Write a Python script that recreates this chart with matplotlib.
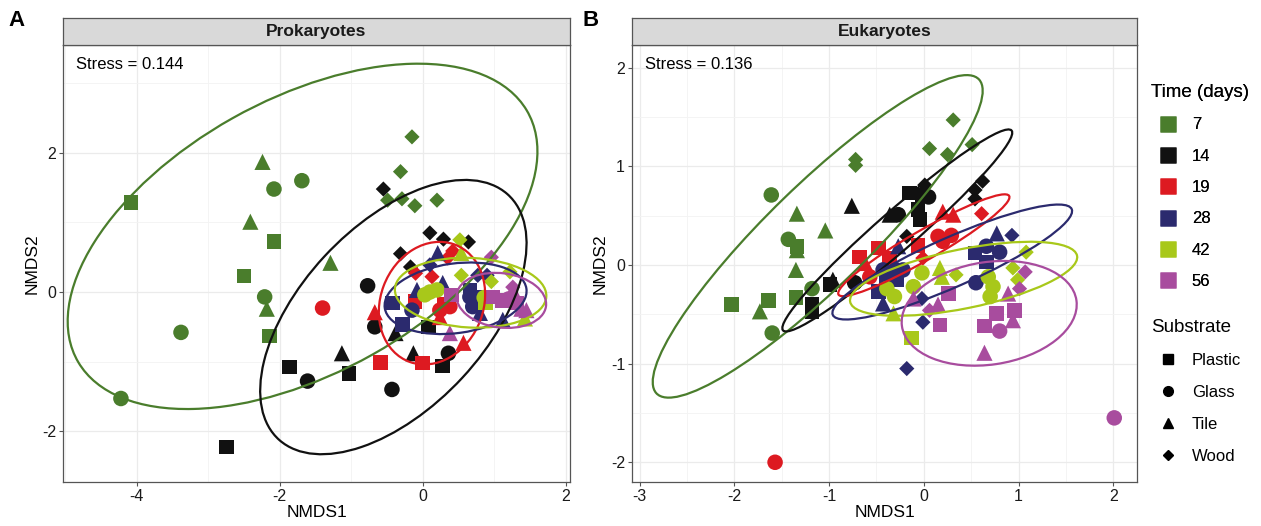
#!/usr/bin/env python3

import matplotlib
matplotlib.use("Agg")
from matplotlib import pyplot as plt
from matplotlib.patches import Ellipse
from matplotlib.lines import Line2D
from matplotlib.ticker import MultipleLocator


plt.rcParams["font.family"] = ["Liberation Sans", "DejaVu Sans"]
plt.rcParams["axes.unicode_minus"] = False

TIMES = [7, 14, 19, 28, 42, 56]
TIME_COLORS = ["#4a7d2c", "#111111", "#dd1a21", "#2b2a6e", "#a8c81a", "#a84c9e"]
SUBSTRATES = ["Plastic", "Glass", "Tile", "Wood"]
SUB_MARKERS = {"P": "s", "G": "o", "T": "^", "W": "D"}
SUB_SIZES = {"P": 110, "G": 125, "T": 135, "W": 60}

# Prokaryotes NMDS scores
pro_x = [-4.08, -2.24, -2.08, -1.69, -2.41, -2.08, -2.50, -1.29, -2.21, -2.18,
         -2.14, -3.38, -4.22, -0.15, -0.31, -0.49, -0.29, -0.11, 0.20,
         -0.55, 0.10, 0.29, 0.64, -0.31, -0.17, -0.77, -0.67, 0.36, -0.43,
         -1.61, -0.38, -0.13, -1.13, 0.08, 0.28, -1.03, -1.86, -2.74,
         -1.40, 0.24, 0.38, -0.67, 0.57, 0.24, -0.59, 0.00, -0.11, 0.30,
         -0.10, 0.13, 0.42, 0.35,
         0.21, -0.08, 0.28, 1.12, 0.80, 0.10, 0.77, 0.90, -0.42, -0.28,
         0.66, 0.84, -0.15, 0.66, 0.70,
         0.52, 0.54, 1.22, 0.96, 0.54, 1.43, 0.10, 0.20, 0.03, 0.86, 0.88,
         0.96, 1.26, 0.40, 0.98, 1.12, 1.31, 0.38, 1.26, 1.45, 1.38, 1.20]
pro_y = [1.29, 1.87, 1.48, 1.60, 1.01, 0.73, 0.23, 0.42, -0.07, -0.24,
         -0.63, -0.58, -1.53, 2.23, 1.73, 1.32, 1.34, 1.24, 1.32,
         1.48, 0.85, 0.76, 0.72, 0.55, 0.36, 0.09, -0.50, -0.88, -1.40,
         -1.28, -0.59, -0.88, -0.88, -0.50, -1.06, -1.17, -1.08, -2.23,
         -0.23, -0.26, -0.21, -0.29, -0.73, -0.36, -1.01, -1.02, -0.14, -0.18,
         0.27, 0.22, 0.59, 0.49,
         0.56, 0.03, 0.13, -0.40, -0.30, 0.39, 0.24, 0.24, -0.16, -0.47,
         0.03, -0.08, -0.26, -0.07, -0.21,
         0.75, 0.24, 0.29, 0.15, 0.56, -0.38, 0.00, 0.03, -0.04, -0.08, -0.15,
         0.50, 0.07, -0.04, -0.07, -0.12, -0.16, -0.59, 0.03, -0.26, -0.24, -0.10]
pro_time = [7] * 19 + [14] * 19 + [19] * 14 + [28] * 15 + [42] * 11 + [56] * 11
pro_sub = list("PTGGTPPTGTPGGWWWWWW"
               "WWWWWWGGGGGTTTPPPPP"
               "GGGTTTPPPPWWWW"
               "TTTTTWWWPPPPGGG"
               "WWWWTTGGGGP"
               "WWPPPPTTTTG")

# Eukaryotes NMDS scores
euk_x = [-1.61, 0.31, 0.06, 0.25, 0.51, -0.72, -0.72, -1.34, -1.04, -1.43,
         -1.34, -1.34, -1.35, -1.18, -1.35, -1.64, -2.03, -1.73, -1.60,
         -0.76, -0.36, -0.27, -0.15, -0.02, 0.05, 0.01, -0.06, -0.04, 0.62,
         0.54, 0.54, -0.18, -0.96, -0.99, -0.73, -1.18, -1.18,
         -1.57, -0.68, -0.48, -0.36, -0.57, -0.06, 0.20, 0.31, 0.15, 0.29,
         0.20, 0.61, -0.01, -0.62,
         -0.18, -0.01, -0.02, -0.27, -0.43, -0.29, -0.22, -0.40, -0.29, -0.43,
         -0.48, 0.54, 0.66, 0.77, 0.66, 0.80, 0.93, 0.55,
         -0.13, -0.39, -0.31, -0.32, -0.02, -0.11, 0.17, 0.19, 0.34, 0.68,
         0.73, 0.70, 0.94, 1.08, 0.99,
         0.64, 0.64, 0.77, 0.96, 0.17, 0.26, 0.80, 0.94, 0.89, -0.11,
         0.15, 0.06, 1.01, 1.07, 2.01]
euk_y = [0.71, 1.47, 1.18, 1.12, 1.22, 1.07, 1.01, 0.52, 0.35, 0.26,
         0.19, 0.15, -0.05, -0.24, -0.33, -0.36, -0.40, -0.47, -0.69,
         0.60, 0.51, 0.51, 0.73, 0.71, 0.69, 0.81, 0.56, 0.46, 0.85,
         0.76, 0.67, 0.29, -0.15, -0.20, -0.18, -0.40, -0.47,
         -2.00, 0.08, 0.17, 0.07, -0.12, 0.20, 0.54, 0.51, 0.29, 0.30,
         0.24, 0.52, 0.07, 0.02,
         -1.05, -0.58, -0.34, 0.19, -0.05, -0.05, -0.05, -0.15, -0.15, -0.39,
         -0.27, 0.12, 0.19, 0.32, 0.03, 0.13, 0.30, -0.18,
         -0.74, -0.24, -0.32, -0.49, -0.08, -0.22, -0.03, -0.12, -0.10, -0.12,
         -0.22, -0.32, -0.03, 0.13, -0.15,
         -0.89, -0.62, -0.49, -0.46, -0.61, -0.29, -0.67, -0.56, -0.29, -0.34,
         -0.40, -0.46, -0.24, -0.07, -1.55]
euk_time = [7] * 19 + [14] * 18 + [19] * 14 + [28] * 18 + [42] * 15 + [56] * 15
euk_sub = list("GWWWWWWTTGPTTGPPPTG"
               "TTGPPGWPPWWWWTPGPP"
               "GPPPGPTTGGGWWT"
               "WWWTGGGPPTPPGTPGWG"
               "PGGTGGTTWGGGWWW"
               "TPPPPPGTTTTWWWG")

# stat_ellipse outlines: centre x, centre y, width, height, angle
pro_ell_x = [-1.68, -0.41, 0.13, 0.46, 0.67, 1.10]
pro_ell_y = [0.80, -0.36, -0.16, -0.09, -0.01, -0.12]
pro_ell_w = [7.24, 4.76, 1.80, 2.00, 2.12, 1.26]
pro_ell_h = [3.92, 2.60, 1.44, 1.00, 1.00, 0.78]
pro_ell_a = [30, 48, 70, 8, -3, -8]

euk_ell_x = [-1.12, -0.28, 0.00, 0.30, 0.42, 0.69]
euk_ell_y = [0.29, 0.35, 0.20, 0.03, -0.14, -0.49]
euk_ell_w = [4.66, 3.15, 2.06, 2.74, 2.44, 1.86]
euk_ell_h = [1.05, 0.40, 0.30, 0.50, 0.60, 1.04]
euk_ell_a = [43, 40, 29, 23, 11, 8]


def draw_panel(ax, xs, ys, times, subs, ell, title, stress, xlim, ylim, xmaj, ymaj):
    for t, col in zip(TIMES, TIME_COLORS):
        for code in "PGTW":
            px = [x for x, tt, s in zip(xs, times, subs) if tt == t and s == code]
            py = [y for y, tt, s in zip(ys, times, subs) if tt == t and s == code]
            if px:
                ax.scatter(px, py, marker=SUB_MARKERS[code], s=SUB_SIZES[code],
                           color=col, edgecolors="none", zorder=3)

    for i, col in enumerate(TIME_COLORS):
        e = Ellipse((ell[0][i], ell[1][i]), ell[2][i], ell[3][i], angle=ell[4][i],
                    fill=False, edgecolor=col, linewidth=1.6, zorder=4)
        ax.add_patch(e)

    ax.set_xlim(*xlim)
    ax.set_ylim(*ylim)
    ax.xaxis.set_major_locator(MultipleLocator(xmaj))
    ax.xaxis.set_minor_locator(MultipleLocator(xmaj / 2))
    ax.yaxis.set_major_locator(MultipleLocator(ymaj))
    ax.yaxis.set_minor_locator(MultipleLocator(ymaj / 2))
    ax.grid(which="major", color="#ebebeb", linewidth=0.9, zorder=0)
    ax.grid(which="minor", color="#f3f3f3", linewidth=0.6, zorder=0)
    ax.set_axisbelow(True)
    ax.tick_params(which="major", length=3, width=0.8, color="#555555",
                   labelsize=11.5, labelcolor="#1a1a1a", pad=2)
    ax.tick_params(which="minor", length=0)
    for sp in ax.spines.values():
        sp.set_color("#555555")
        sp.set_linewidth(0.9)
    ax.set_xlabel("NMDS1", fontsize=12.5, labelpad=1)
    ax.set_ylabel("NMDS2", fontsize=12.5, labelpad=2)
    ax.text(0.025, 0.955, stress, transform=ax.transAxes, fontsize=12,
            ha="left", va="center")

    pos = ax.get_position()
    strip = ax.figure.add_axes([pos.x0, pos.y1, pos.width, 27 / 526])
    strip.set_facecolor("#d9d9d9")
    strip.set_xticks([])
    strip.set_yticks([])
    for sp in strip.spines.values():
        sp.set_color("#555555")
        sp.set_linewidth(0.9)
    strip.text(0.5, 0.5, title, ha="center", va="center", fontsize=12.5,
               fontweight="bold", color="#1a1a1a")


def main():
    fig = plt.figure(figsize=(12.61, 5.26), dpi=100)

    ax_a = fig.add_axes([63 / 1261, 44 / 526, 507 / 1261, 437 / 526])
    ax_b = fig.add_axes([632 / 1261, 44 / 526, 505 / 1261, 437 / 526])

    draw_panel(ax_a, pro_x, pro_y, pro_time, pro_sub,
               (pro_ell_x, pro_ell_y, pro_ell_w, pro_ell_h, pro_ell_a),
               "Prokaryotes", "Stress = 0.144", (-5.03, 2.06), (-2.73, 3.55), 2, 2)
    draw_panel(ax_b, euk_x, euk_y, euk_time, euk_sub,
               (euk_ell_x, euk_ell_y, euk_ell_w, euk_ell_h, euk_ell_a),
               "Eukaryotes", "Stress = 0.136", (-3.08, 2.25), (-2.2, 2.23), 1, 1)

    fig.text(8 / 1261, 1 - 20 / 526, "A", fontsize=16, fontweight="bold", va="center")
    fig.text(583 / 1261, 1 - 20 / 526, "B", fontsize=16, fontweight="bold", va="center")

    time_handles = [Line2D([], [], marker="s", linestyle="none", markersize=11.5,
                           markerfacecolor=c, markeredgecolor="none") for c in TIME_COLORS]
    leg1 = fig.legend(time_handles, [str(t) for t in TIMES], title="Time (days)",
                      loc="upper left", bbox_to_anchor=(1136 / 1261, 1 - 69 / 526),
                      frameon=False, fontsize=12, title_fontsize=13.5,
                      labelspacing=0.98, handletextpad=0.45, alignment="left")
    sub_handles = [Line2D([], [], marker=SUB_MARKERS[c], linestyle="none",
                          markersize=7 if c != "W" else 5.5, color="black")
                   for c in "PGTW"]
    fig.legend(sub_handles, SUBSTRATES, title="Substrate",
               loc="upper left", bbox_to_anchor=(1136 / 1261, 1 - 304 / 526),
               frameon=False, fontsize=12, title_fontsize=13.5,
               labelspacing=1.02, handletextpad=0.45, alignment="left")
    fig.add_artist(leg1)

    fig.savefig("out.png", dpi=100)


if __name__ == "__main__":
    main()
